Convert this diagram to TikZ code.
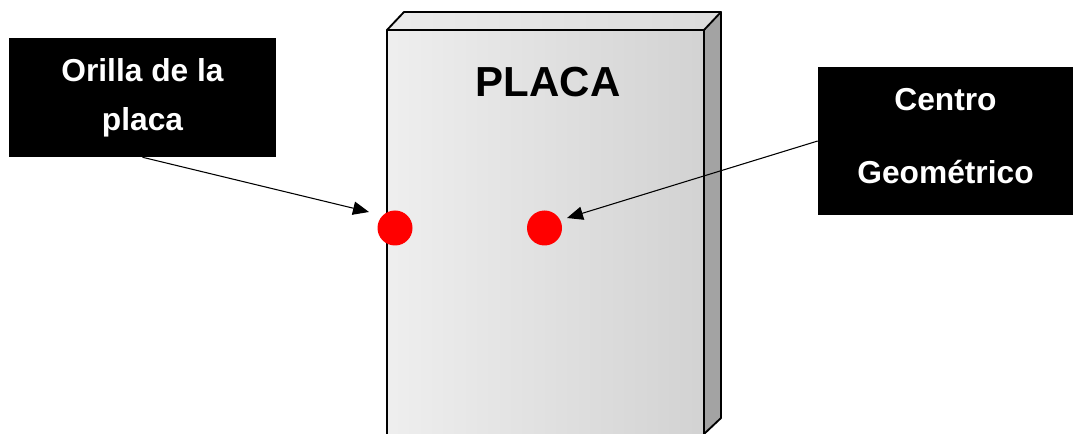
\documentclass[tikz,border=0pt]{standalone}
\usepackage{fontspec}
\setmainfont{Liberation Sans}
\usetikzlibrary{arrows.meta}

\tikzset{
  labelbox/.style={fill=black,text=white,inner sep=0pt,align=center,
    font=\bfseries\fontsize{23.8}{37}\selectfont},
  reddot/.style={circle,fill=red,inner sep=0pt,minimum size=26.25pt},
  pointer/.style={-{Triangle[length=12pt,width=10pt]},line width=0.8pt}
}

\begin{document}
\begin{tikzpicture}[x=0.75pt,y=-0.75pt]
  \useasboundingbox (0,0) rectangle (1073,434);

  % plate
  \shade[left color=gray!13,right color=gray!35] (387,30) rectangle (704,434);
  \shade[left color=gray!16,right color=gray!28] (387,30) -- (404,12) -- (721,12) -- (704,30) -- cycle;
  \fill[gray!72] (704,30) -- (721,12) -- (721,418) -- (704,434) -- cycle;
  \draw[line width=1.4pt,line join=round] (387,434) -- (387,30) -- (704,30) -- (704,434);
  \draw[line width=1.4pt,line join=round] (387,30) -- (404,12) -- (721,12) -- (704,30);
  \draw[line width=1.4pt,line join=round] (721,12) -- (721,418) -- (704,434);

  \node (placa) at (548,82) {\bfseries\fontsize{31.5}{36}\selectfont PLACA};

  \node[reddot] (edgedot) at (395,228) {};
  \node[reddot] (centerdot) at (544.5,228) {};

  \node[labelbox,minimum width=200.25pt,minimum height=89.25pt] (orilla) at (142.5,97.5)
    {Orilla de la\\placa\rule[-3pt]{0pt}{0pt}};
  \node[labelbox,minimum width=191.25pt,minimum height=111pt] (centro) at (945.5,141)
    {Centro\\[18pt]Geométrico\rule[-8pt]{0pt}{0pt}};

  \coordinate (edgetip) at (369,212);
  \coordinate (centertip) at (567,218);
  \draw[pointer] (orilla.south) -- (edgetip);
  \draw[pointer] (centro.west) -- (centertip);
\end{tikzpicture}
\end{document}
